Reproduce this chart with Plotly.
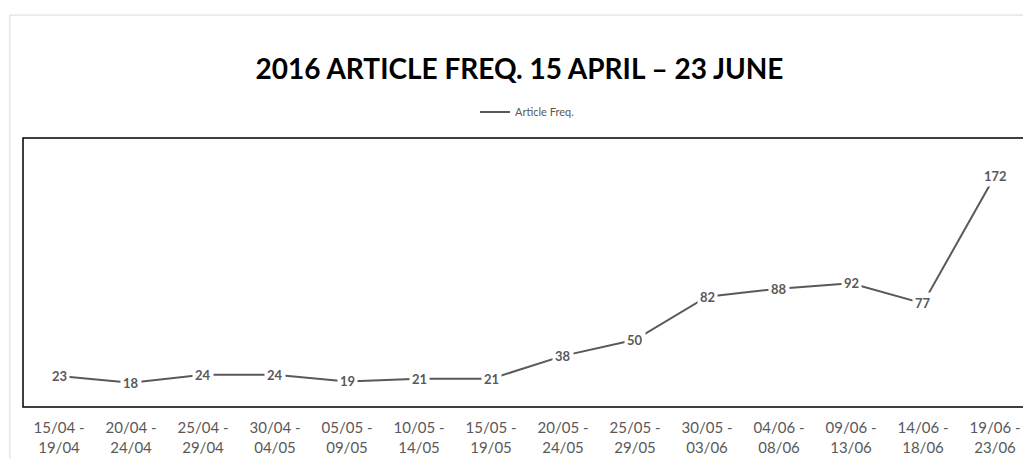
import plotly.graph_objects as go

periods = [
    "15/04 -<br>19/04", "20/04 -<br>24/04", "25/04 -<br>29/04", "30/04 -<br>04/05",
    "05/05 -<br>09/05", "10/05 -<br>14/05", "15/05 -<br>19/05", "20/05 -<br>24/05",
    "25/05 -<br>29/05", "30/05 -<br>03/06", "04/06 -<br>08/06", "09/06 -<br>13/06",
    "14/06 -<br>18/06", "19/06 -<br>23/06",
]
article_freq = [23, 18, 24, 24, 19, 21, 21, 38, 50, 82, 88, 92, 77, 172]

GREY = "#595959"
FONT = "Lato"

fig = go.Figure()
fig.add_trace(go.Scatter(
    x=periods,
    y=article_freq,
    mode="lines",
    name="Article Freq.",
    line=dict(color=GREY, width=2),
    hoverinfo="x+y",
))

# data labels sit on a white box so the line breaks around them, like Excel
for p, v in zip(periods, article_freq):
    fig.add_annotation(
        x=p, y=v, text=f"<b>{v}</b>", showarrow=False,
        bgcolor="white", borderpad=2,
        font=dict(family=FONT, size=13, color=GREY),
    )

# outer chart-area border (light grey) and the plot-area frame
fig.add_shape(type="rect", xref="paper", yref="paper",
              x0=-0.013, x1=1.05, y0=-0.3, y1=1.457,
              line=dict(color="#d9d9d9", width=1), layer="below")
fig.add_shape(type="rect", xref="paper", yref="paper",
              x0=0, x1=1, y0=0, y1=1,
              line=dict(color="black", width=1.5))

# page body has an 8px margin, so the figure is sized/offset for that
fig.update_layout(
    width=1023,
    height=450,
    margin=dict(l=15, r=0, t=130, b=51),
    paper_bgcolor="white",
    plot_bgcolor="white",
    title=dict(
        text="<b>2016 ARTICLE FREQ. 15 APRIL – 23 JUNE</b>",
        x=0.5, xanchor="center", y=0.864, yanchor="middle",
        font=dict(family=FONT, size=28, color="black"),
    ),
    showlegend=True,
    legend=dict(
        orientation="h", x=0.5, xanchor="center", y=1.097, yanchor="middle",
        font=dict(family=FONT, size=11, color=GREY),
        itemwidth=30,
    ),
    xaxis=dict(
        range=[-0.5, len(periods) - 0.5],
        showgrid=False, zeroline=False, ticks="",
        tickfont=dict(family=FONT, size=15, color=GREY),
        ticklabelstandoff=10,
        fixedrange=True,
    ),
    yaxis=dict(
        range=[0, 200], visible=False, fixedrange=True,
    ),
)

fig.write_html("out.html")
